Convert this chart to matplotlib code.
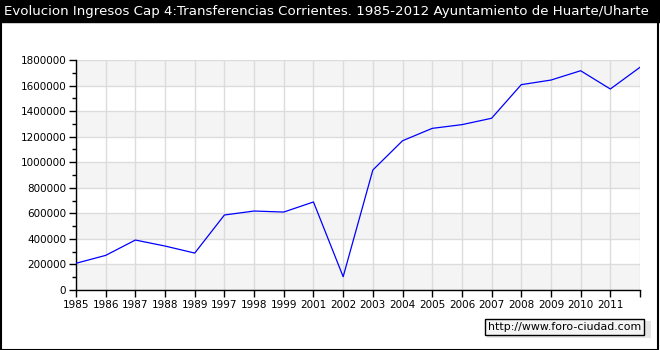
import matplotlib
matplotlib.use("Agg")
import matplotlib.pyplot as plt
from matplotlib.patches import Rectangle
from matplotlib.ticker import MultipleLocator

# data
years = ["1985", "1986", "1987", "1988", "1989", "1997", "1998", "1999", "2001",
         "2002", "2003", "2004", "2005", "2006", "2007", "2008", "2009", "2010",
         "2011", "2012"]
values = [209000, 271000, 391000, 344000, 289000, 587000, 618000, 610000, 689000,
          104000, 939000, 1168000, 1265000, 1294000, 1344000, 1607000, 1643000,
          1716000, 1573000, 1743000]
tick_labels = years[:-1]  # last year has no label

title = "Evolucion Ingresos Cap 4:Transferencias Corrientes. 1985-2012 Ayuntamiento de Huarte/Uharte"
watermark = "http://www.foro-ciudad.com"

plt.rcParams['font.family'] = ['DejaVu Sans']

fig = plt.figure(figsize=(6.6, 3.5), dpi=100)
ax = fig.add_axes([76/660, 60/350, 564/660, 230/350])

xs = list(range(len(years)))
ymax = 1800000

# alternating bands
for i, lo in enumerate(range(0, ymax, 200000)):
    if i % 2 == 0:
        ax.axhspan(lo, lo + 200000, color="#f4f4f4", zorder=0, lw=0)

ax.set_xlim(0, len(years) - 1)
ax.set_ylim(0, ymax)
ax.set_xticks(xs)
ax.set_xticklabels(tick_labels + [""])
ax.yaxis.set_major_locator(MultipleLocator(200000))
ax.yaxis.set_minor_locator(MultipleLocator(100000))
ax.grid(True, which="major", color="#dcdcdc", lw=1, zorder=1)

ax.plot(xs, values, color="#0000ff", lw=0.9, zorder=3)

for side in ["top", "right"]:
    ax.spines[side].set_visible(False)
for side in ["left", "bottom"]:
    ax.spines[side].set_linewidth(1)
ax.tick_params(axis="both", which="major", length=5, width=1, labelsize=7.5, pad=2)
ax.tick_params(axis="y", which="minor", length=3, width=1)
ax.ticklabel_format(axis="y", style="plain")

# title bar
fig.patches.append(Rectangle((0, 1 - 22/350), 1, 22/350, transform=fig.transFigure,
                             color="black", zorder=0))
fig.text(4/660, 1 - 11/350, title, color="white", fontsize=9.65, va="center", ha="left")

# outer frame
fig.patches.append(Rectangle((0.5/660, 0.5/350), 657/660, 348/350, transform=fig.transFigure,
                             fill=False, edgecolor="black", lw=1.5))

# watermark box with faint shadow
fig.patches.append(Rectangle((487/660, 1 - 338/350), 164/660, 17/350, transform=fig.transFigure,
                             facecolor="#e6e6e6", edgecolor="none", zorder=0))
fig.text(488/660, 1 - 327/350, watermark, fontsize=7.9, va="center", ha="left",
         bbox=dict(boxstyle="square,pad=0.25", facecolor="#f4f4f4", edgecolor="black", lw=1))

fig.savefig("out.png", dpi=100)
